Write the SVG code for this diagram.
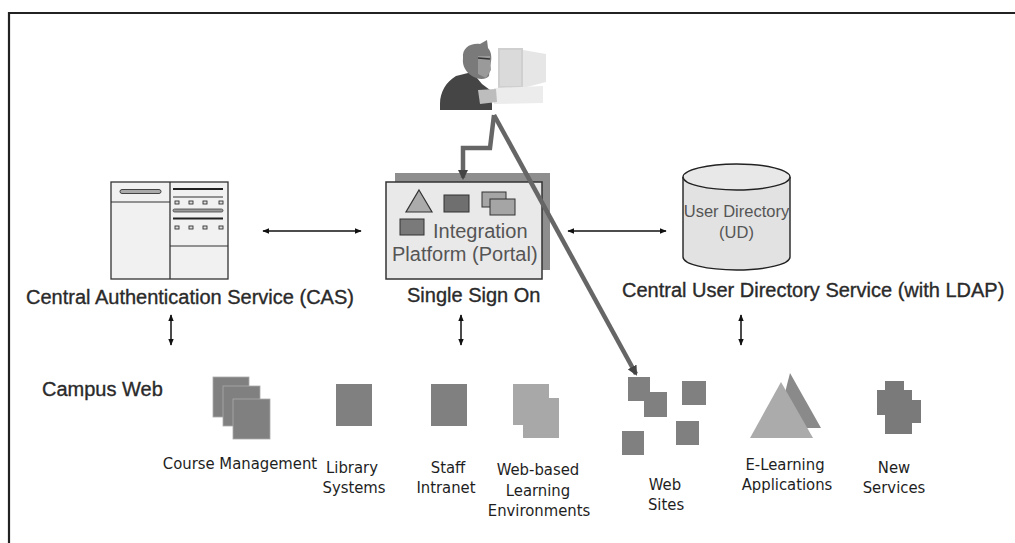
<svg xmlns="http://www.w3.org/2000/svg" width="1015" height="543" viewBox="0 0 1015 543">
  <style>
    .lbl { font-family: "Liberation Sans", Arial, sans-serif; font-size: 20px; fill: #2a2a2a; stroke: #2a2a2a; stroke-width: 0.35; }
    .in { font-family: "Liberation Sans", Arial, sans-serif; fill: #555; }
    .sm { font-family: "DejaVu Sans Condensed", "DejaVu Sans", sans-serif; font-stretch: condensed; font-size: 16.5px; fill: #1e1e1e; text-anchor: middle; }
    .blk { fill: #808080; }
    .conn { stroke: #111; stroke-width: 1.5; fill: none; }
    .feed { stroke: #666; stroke-width: 4.5; fill: none; stroke-linejoin: miter; }
  </style>
  <defs>
    <marker id="ah" viewBox="0 0 10 10" refX="9" refY="5" markerWidth="7" markerHeight="7" markerUnits="userSpaceOnUse" orient="auto-start-reverse">
      <path d="M0,1 L10,5 L0,9 z" fill="#111"/>
    </marker>
    <marker id="ahg" viewBox="0 0 10 10" refX="8" refY="5" markerWidth="10" markerHeight="10" markerUnits="userSpaceOnUse" orient="auto">
      <path d="M0,0 L10,5 L0,10 z" fill="#444"/>
    </marker>
  </defs>

  <rect width="1015" height="543" fill="#fff"/>
  <!-- frame -->
  <path d="M9,543 V13 H1015" fill="none" stroke="#222" stroke-width="2.2"/>

  <!-- user at workstation -->
  <g id="user">
    <path d="M523,50 L546,54 L546,82 L523,88 z" fill="#e6e6e6"/>
    <rect x="498" y="48" width="25" height="40" fill="#cfcfcf"/>
    <rect x="500" y="50" width="21" height="36" fill="#dadada"/>
    <path d="M494,88 L543,86 L543,103 L494,104 z" fill="#ececec"/>
    <path d="M440,104 C440,92 446,82 456,76 L472,72 L482,84 L490,90 L492,104 L492,110 L440,110 z" fill="#454545"/>
    <path d="M478,90 L496,89 L497,102 L480,104 z" fill="#bdbdbd"/>
    <path d="M463,58 C462,48 470,43 480,44 L487,40 L488,48 C492,52 492,60 490,66 L489,76 C486,80 478,80 472,76 C466,72 462,66 463,58 z" fill="#7a7a7a"/>
    <path d="M478,56 L490,56 L491,70 L486,78 L478,74 z" fill="#9a9a9a"/>
    <path d="M478,58 L490,59" stroke="#333" stroke-width="1.5"/>
  </g>

  <!-- Central Authentication Service -->
  <g id="cas">
    <rect x="111" y="182" width="117" height="97" fill="#f1f1f1" stroke="#333" stroke-width="1.3"/>
    <line x1="170" y1="182" x2="170" y2="279" stroke="#333" stroke-width="1.3"/>
    <line x1="111" y1="202" x2="170" y2="202" stroke="#333" stroke-width="1.2"/>
    <line x1="170" y1="246" x2="228" y2="246" stroke="#333" stroke-width="1.2"/>
    <rect x="120" y="189.5" width="41" height="4" rx="2" fill="#aaa" stroke="#444" stroke-width="1"/>
    <line x1="173" y1="189" x2="223" y2="189" stroke="#222" stroke-width="2"/>
    <line x1="173" y1="197" x2="223" y2="197" stroke="#333" stroke-width="1.2"/>
    <g fill="#ddd" stroke="#333" stroke-width="0.9">
      <rect x="175" y="201" width="4" height="3"/><rect x="189" y="201" width="4" height="3"/><rect x="203" y="201" width="4" height="3"/><rect x="219" y="201" width="4" height="3"/>
      <rect x="175" y="226" width="4" height="3"/><rect x="189" y="226" width="4" height="3"/><rect x="203" y="226" width="4" height="3"/><rect x="219" y="226" width="4" height="3"/>
    </g>
    <rect x="173" y="209" width="50" height="3" rx="1.5" fill="#999" stroke="#444" stroke-width="0.8"/>
    <line x1="173" y1="218.5" x2="223" y2="218.5" stroke="#222" stroke-width="2"/>
    <text class="lbl" x="26" y="304">Central Authentication Service (CAS)</text>
  </g>

  <!-- Integration platform / single sign on -->
  <g id="portal">
    <rect x="395" y="173" width="155" height="97" fill="#8e8e8e"/>
    <rect x="386" y="182" width="156" height="97" fill="#e9e9e9" stroke="#333" stroke-width="1.5"/>
    <path d="M419,190 L432,212 L406,212 z" fill="#ababab" stroke="#333" stroke-width="1.2"/>
    <rect x="444" y="195" width="25" height="17" fill="#6f6f6f" stroke="#333" stroke-width="1"/>
    <rect x="482" y="192" width="24" height="15" fill="#a5a5a5" stroke="#333" stroke-width="1"/>
    <rect x="490" y="199" width="25" height="16" fill="#a5a5a5" stroke="#333" stroke-width="1"/>
    <rect x="400" y="219" width="24" height="16" fill="#7a7a7a" stroke="#333" stroke-width="1"/>
    <text class="in" x="433" y="238" font-size="20">Integration</text>
    <text class="in" x="392" y="261" font-size="20">Platform (Portal)</text>
    <text class="lbl" x="407" y="302">Single Sign On</text>
  </g>

  <!-- user directory -->
  <g id="directory">
    <path d="M683,177 V257 A53.5,13 0 0 0 790,257 V177" fill="#e2e2e2" stroke="#222" stroke-width="1.4"/>
    <ellipse cx="736.5" cy="177" rx="53.5" ry="13" fill="#e8e8e8" stroke="#222" stroke-width="1.4"/>
    <text class="in" x="736.5" y="217" font-size="16.5" text-anchor="middle">User Directory</text>
    <text class="in" x="736.5" y="238" font-size="16.5" text-anchor="middle">(UD)</text>
    <text class="lbl" x="622" y="297">Central User Directory Service (with LDAP)</text>
  </g>

  <g id="campus">
    <text class="lbl" x="42" y="396" font-size="22" fill="#444" stroke="#444">Campus Web</text>
  </g>

  <g id="course">
    <rect class="blk" x="213" y="377" width="36" height="40" stroke="#aaa" stroke-width="0.8"/>
    <rect class="blk" x="223" y="386" width="37" height="40" stroke="#aaa" stroke-width="0.8"/>
    <rect class="blk" x="233" y="399" width="37" height="40" stroke="#aaa" stroke-width="0.8"/>
    <text class="sm" x="240" y="469">Course Management</text>
  </g>

  <g id="library">
    <rect class="blk" x="336" y="384" width="36" height="42"/>
    <text class="sm" x="352" y="473">Library</text>
    <text class="sm" x="354" y="493">Systems</text>
  </g>

  <g id="intranet">
    <rect class="blk" x="431" y="384" width="36" height="42"/>
    <text class="sm" x="448" y="473">Staff</text>
    <text class="sm" x="446" y="493">Intranet</text>
  </g>

  <g id="learning-env">
    <rect x="513" y="384" width="36" height="41" fill="#a8a8a8"/>
    <rect x="523" y="398" width="36" height="40" fill="#a8a8a8"/>
    <text class="sm" x="538" y="475">Web-based</text>
    <text class="sm" x="538" y="496">Learning</text>
    <text class="sm" x="539" y="516">Environments</text>
  </g>

  <g id="websites">
    <rect class="blk" x="628" y="377" width="22" height="24"/>
    <rect class="blk" x="644" y="392" width="23" height="25"/>
    <rect class="blk" x="622" y="431" width="22" height="24"/>
    <rect class="blk" x="682" y="381" width="24" height="24"/>
    <rect class="blk" x="676" y="421" width="23" height="24"/>
    <text class="sm" x="665" y="490">Web</text>
    <text class="sm" x="666" y="510">Sites</text>
  </g>

  <g id="elearning">
    <path d="M790,373 L821,428 L776,428 z" fill="#8a8a8a"/>
    <path d="M781,382 L813,438 L750,438 z" fill="#ababab"/>
    <text class="sm" x="785" y="470">E-Learning</text>
    <text class="sm" x="787" y="490">Applications</text>
  </g>

  <g id="newservices" fill="#7a7a7a">
    <rect x="885" y="381" width="19" height="13"/>
    <rect x="877" y="390" width="35" height="25"/>
    <rect x="895" y="400" width="26" height="23"/>
    <rect x="885" y="413" width="27" height="21"/>
    <text class="sm" x="894" y="473">New</text>
    <text class="sm" x="894" y="493">Services</text>
  </g>

  <!-- connectors -->
  <g id="connectors">
    <line class="conn" x1="263" y1="231" x2="361" y2="231" marker-start="url(#ah)" marker-end="url(#ah)"/>
    <line class="conn" x1="568" y1="231" x2="666" y2="231" marker-start="url(#ah)" marker-end="url(#ah)"/>
    <line class="conn" x1="171" y1="315" x2="171" y2="345" marker-start="url(#ah)" marker-end="url(#ah)"/>
    <line class="conn" x1="461" y1="315" x2="461" y2="345" marker-start="url(#ah)" marker-end="url(#ah)"/>
    <line class="conn" x1="741" y1="315" x2="741" y2="345" marker-start="url(#ah)" marker-end="url(#ah)"/>
    <polyline class="feed" points="494,115 490,148 463,148 463,178" marker-end="url(#ahg)"/>
    <line class="feed" x1="494" y1="115" x2="636" y2="374" marker-end="url(#ahg)"/>
  </g>
</svg>
